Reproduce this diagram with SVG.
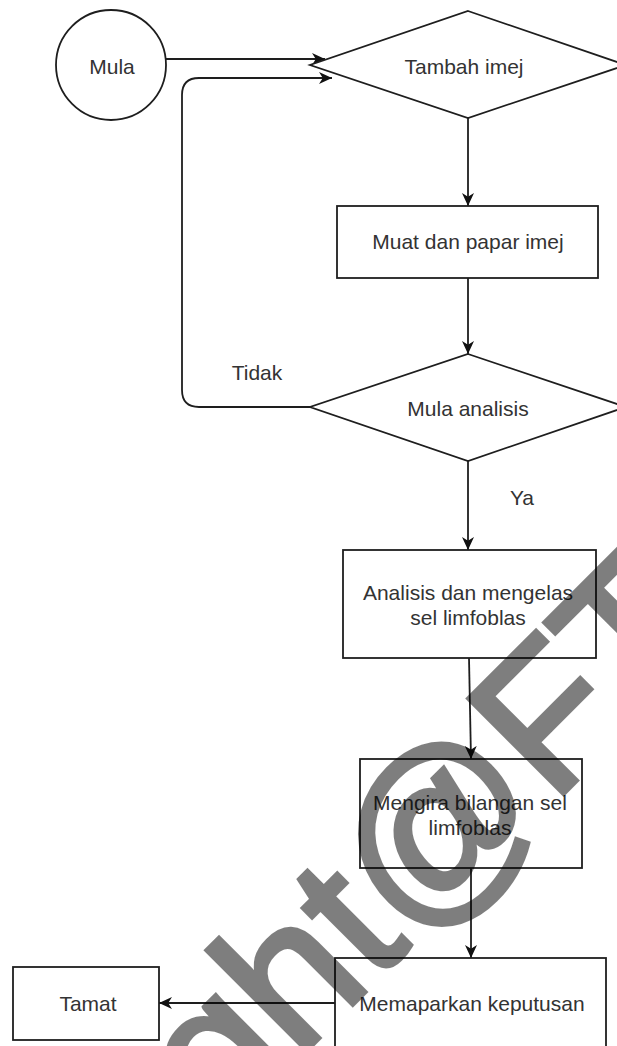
<svg xmlns="http://www.w3.org/2000/svg" width="617" height="1046" viewBox="0 0 617 1046">
  <defs>
    <style>
      .shape { fill: #ffffff; stroke: #1e1e1e; stroke-width: 1.8; }
      .conn { fill: none; stroke: #1e1e1e; stroke-width: 1.8; marker-end: url(#arr); }
      .lbl { font-family: "Liberation Sans", Arial, sans-serif; font-size: 21px; fill: #333333; text-anchor: middle; }
      .wm { font-family: "Liberation Sans", Arial, sans-serif; font-size: 195px; fill: #000000; stroke: #000000; stroke-width: 5; stroke-linejoin: miter; }
    </style>
    <marker id="arr" viewBox="0 0 13 13" refX="13" refY="6.5" markerWidth="13" markerHeight="13" orient="auto" markerUnits="userSpaceOnUse">
      <path d="M0,0.5 L13,6.5 L0,12.5 L3.8,6.5 Z" fill="#111111"/>
    </marker>
  </defs>
  <rect width="617" height="1046" fill="#ffffff"/>

  <g id="connectors">
    <path class="conn" d="M166,59 H325"/>
    <path class="conn" d="M310,407 H199 Q182,407 182,390 V95 Q182,78 199,78 H332"/>
    <path class="conn" d="M468,118 V206"/>
    <path class="conn" d="M468,278 V354"/>
    <path class="conn" d="M468,461 V550"/>
    <path class="conn" d="M469,658 L471,759"/>
    <path class="conn" d="M471,868 V958"/>
    <path class="conn" d="M335,1003 H159"/>
  </g>

  <g id="node-mula">
    <circle class="shape" cx="111" cy="65" r="55"/>
    <text class="lbl" x="112" y="74">Mula</text>
  </g>
  <g id="node-tambah">
    <polygon class="shape" points="468,11 626,65 468,118 310,65"/>
    <text class="lbl" x="464" y="74">Tambah imej</text>
  </g>
  <g id="node-muat">
    <rect class="shape" x="337" y="206" width="261" height="72"/>
    <text class="lbl" x="468" y="249">Muat dan papar imej</text>
  </g>
  <g id="node-analisis-dec">
    <polygon class="shape" points="468,354 626,407 468,461 310,407"/>
    <text class="lbl" x="468" y="416">Mula analisis</text>
  </g>
  <g id="label-tidak">
    <text class="lbl" x="257" y="380">Tidak</text>
  </g>
  <g id="label-ya">
    <text class="lbl" x="522" y="505">Ya</text>
  </g>
  <g id="node-analisis">
    <rect class="shape" x="343" y="550" width="253" height="108"/>
    <text class="lbl" x="468" y="600">Analisis dan mengelas</text>
    <text class="lbl" x="468" y="625">sel limfoblas</text>
  </g>
  <g id="node-mengira">
    <rect class="shape" x="360" y="759" width="222" height="109"/>
    <text class="lbl" x="470" y="810">Mengira bilangan sel</text>
    <text class="lbl" x="470" y="835">limfoblas</text>
  </g>
  <g id="node-memaparkan">
    <rect class="shape" x="335" y="958" width="271" height="100"/>
    <text class="lbl" x="472" y="1011">Memaparkan keputusan</text>
  </g>
  <g id="node-tamat">
    <rect class="shape" x="13" y="967" width="146" height="73"/>
    <text class="lbl" x="88" y="1011">Tamat</text>
  </g>

  <g id="watermark" opacity="0.5">
    <text class="wm" transform="translate(570 787) rotate(-45)" x="-494" y="0">ght@FT</text>
  </g>
</svg>
